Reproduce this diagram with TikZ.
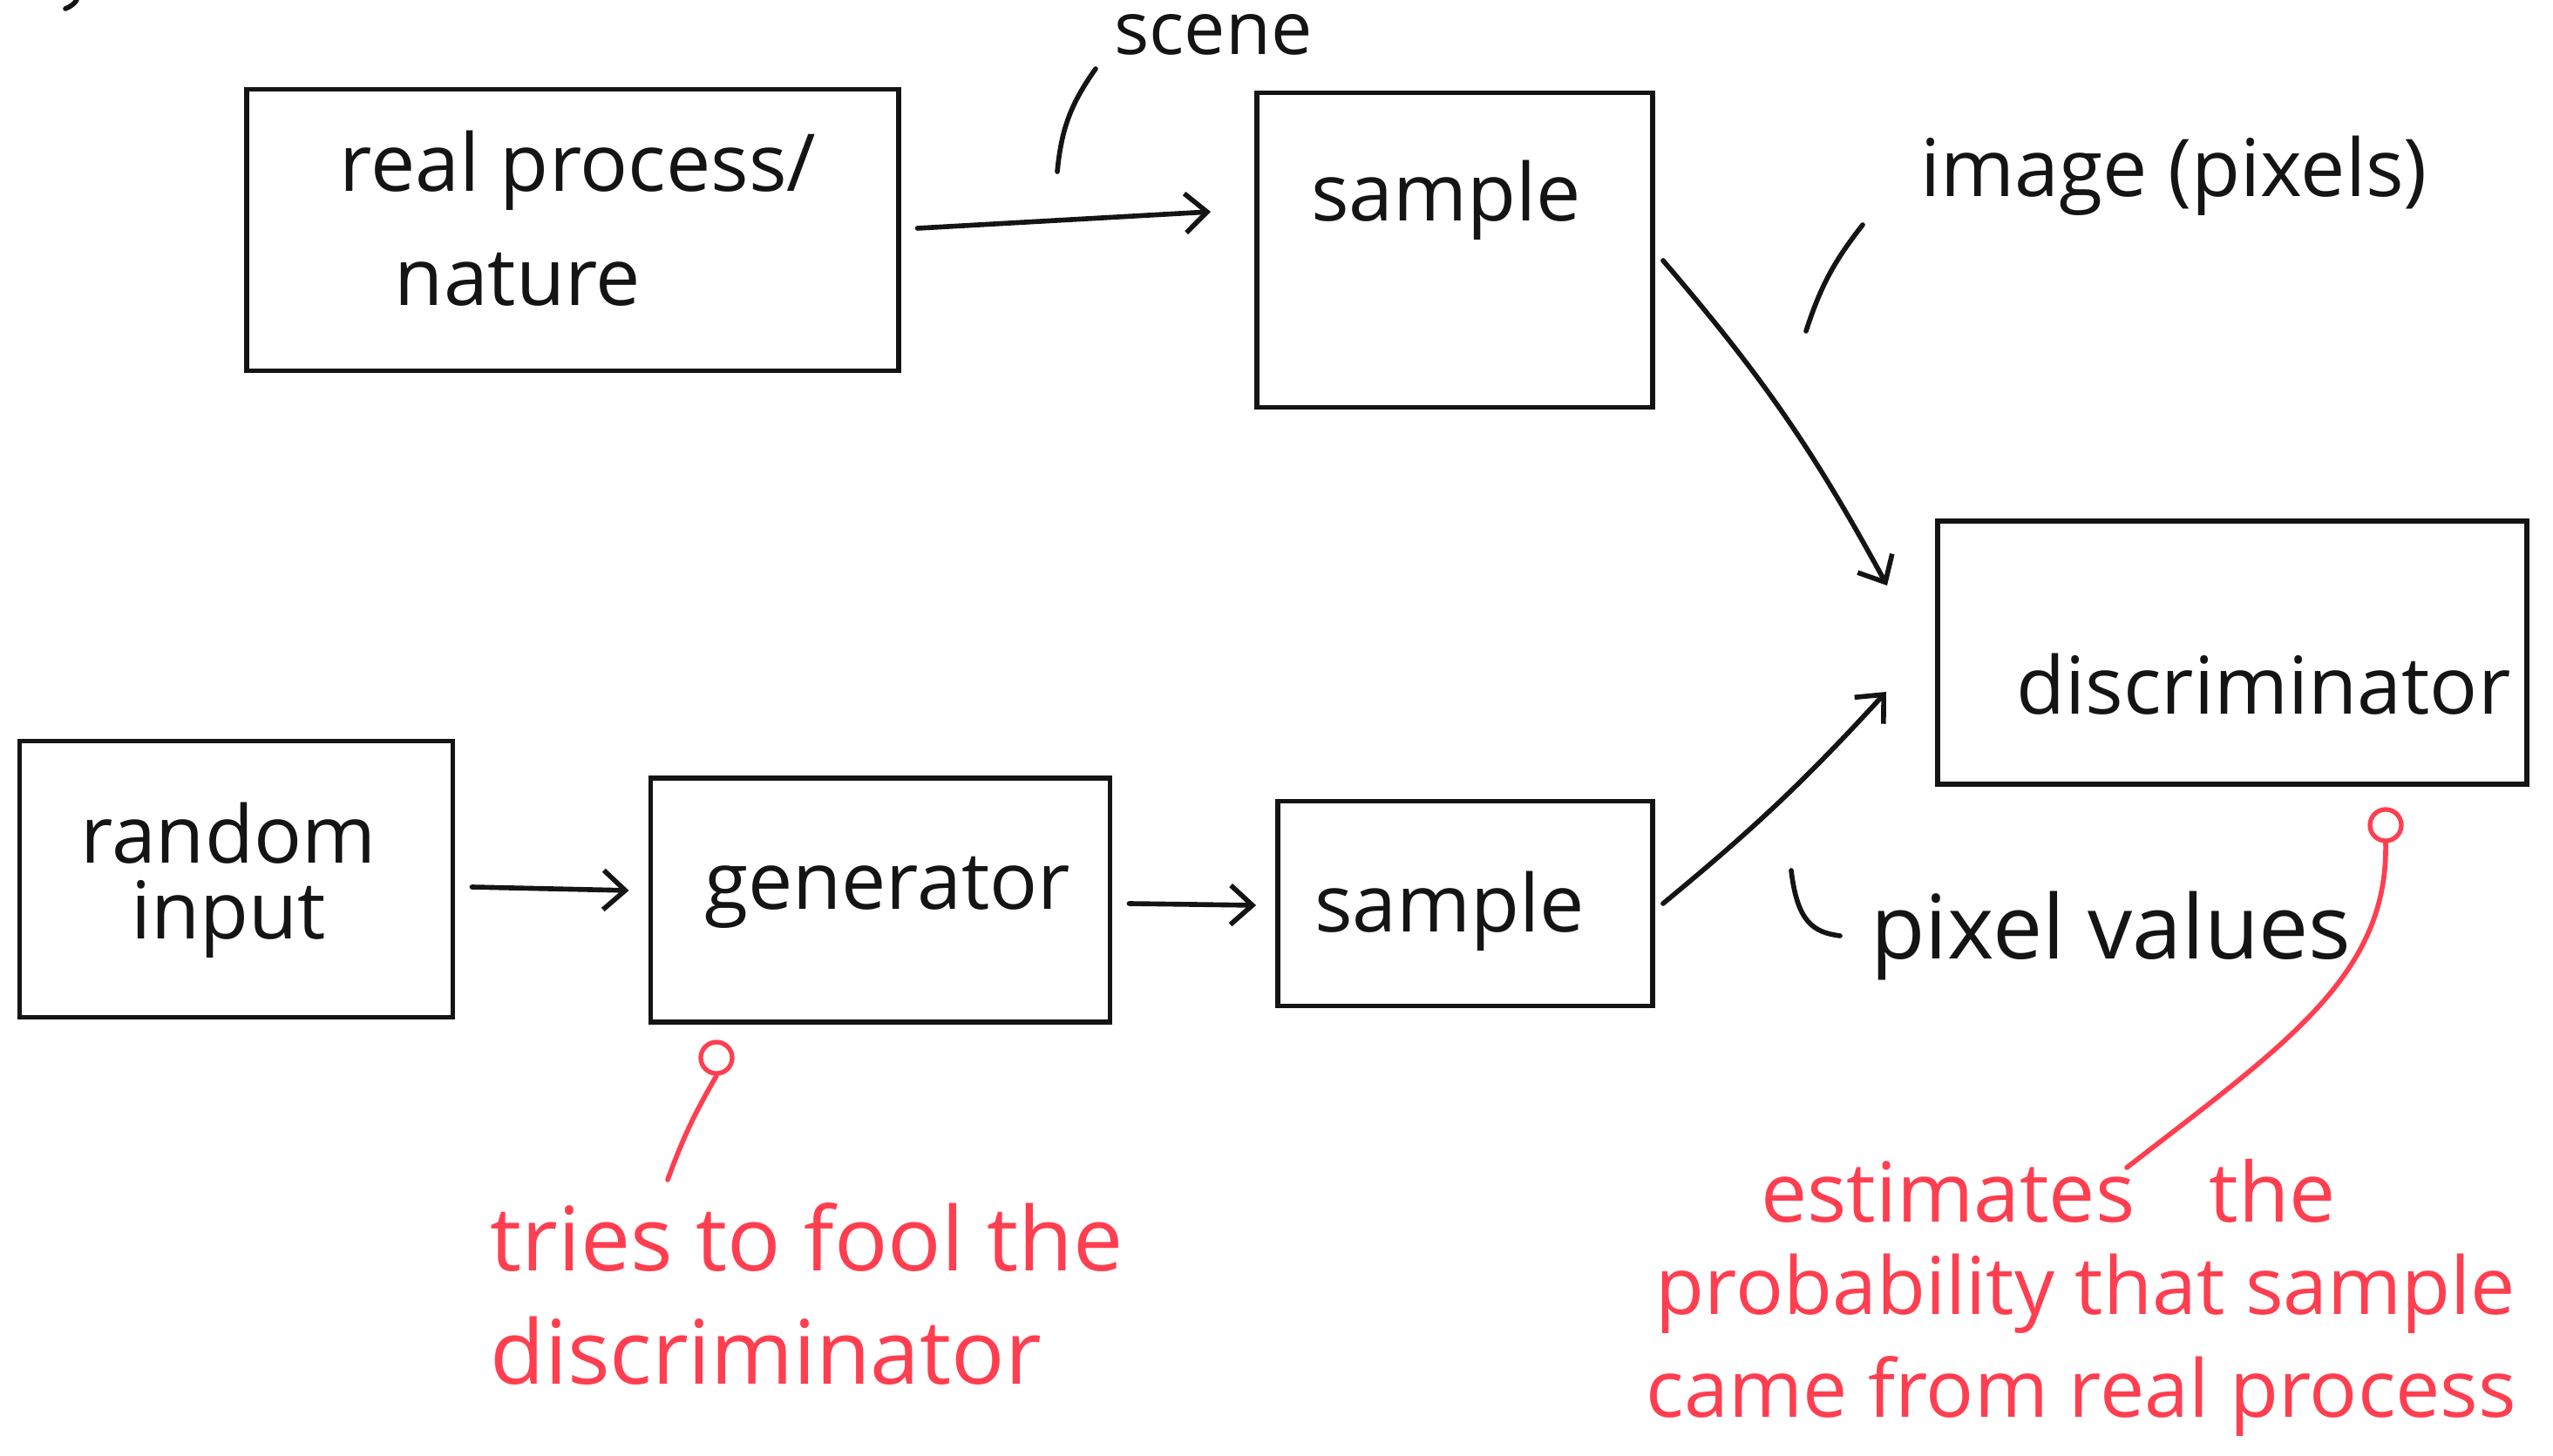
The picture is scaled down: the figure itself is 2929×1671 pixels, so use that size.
\documentclass[tikz,border=0pt]{standalone}
\usepackage{fontspec}
\setmainfont{Open Sans}
\usetikzlibrary{arrows.meta,calc}
\definecolor{pen}{RGB}{20,20,20}
\definecolor{redpen}{RGB}{255,62,80}
\tikzset{
  box/.style={draw=pen, line width=1.6pt, rectangle, inner sep=0pt},
  lbl/.style={font=\fontsize{26}{30}\selectfont, text=pen, inner sep=0pt},
  rlbl/.style={font=\fontsize{29}{33}\selectfont, text=redpen, inner sep=0pt},
  rlbls/.style={rlbl, font=\fontsize{26}{30}\selectfont},
  conn/.style={draw=pen, line width=1.6pt, line cap=round, line join=round},
  arr/.style={conn, -{Straight Barb[length=0.25cm,width=0.45cm]}},
  rconn/.style={draw=redpen, line width=1.6pt, line cap=round},
  rdot/.style={draw=redpen, circle, line width=1.5pt, minimum size=0.36cm, inner sep=0pt},
}
\begin{document}
\begin{tikzpicture}[x=0.01cm, y=-0.01cm]
\useasboundingbox (0,0) rectangle (2929,1671);

% boxes
\node[box, minimum width=7.47cm, minimum height=3.23cm] (real) at (657,264) {};
\node[box, minimum width=4.54cm, minimum height=3.61cm] (sone) at (1669,287) {};
\node[box, minimum width=6.76cm, minimum height=3.02cm] (disc) at (2561,749) {};
\node[box, minimum width=4.97cm, minimum height=3.17cm] (rand) at (271,1009) {};
\node[box, minimum width=5.27cm, minimum height=2.80cm] (gen) at (1010,1033) {};
\node[box, minimum width=4.30cm, minimum height=2.35cm] (stwo) at (1681,1037) {};

% box texts
\node[lbl] (realta) at (663,196) {real process/};
\node[lbl] (realtb) at (594,321) {nature};
\node[lbl] (sonet) at (1659,230) {sample};
\node[lbl] (disct) at (2597,785) {discriminator};
\node[lbl] (randta) at (262,956) {random};
\node[lbl] (randtb) at (262,1055) {input};
\node[lbl] (gent) at (1018,1024) {generator};
\node[lbl] (stwot) at (1663,1046) {sample};

% annotations
\node[lbl, font=\fontsize{24}{28}\selectfont] (scene) at (1392,40) {scene};
\node[lbl] (image) at (2494,202) {image (pixels)};
\node[lbl, font=\fontsize{29}{33}\selectfont] (pixv) at (2422,1074) {pixel values};

% arrows
\draw[arr] ($(real.east)+(19,-2)$) -- ($(sone.west)+(-50,-44)$);
\draw[arr] ($(sone.east)+(9,12)$) to[bend left=6] ($(disc.west)+(-55,-77)$);
\draw[arr] ($(stwo.east)+(9,0)$) to[bend right=4] ($(disc.west)+(-56,45)$);
\draw[arr] ($(rand.east)+(19,9)$) -- ($(gen.west)+(-22,-11)$);
\draw[arr] ($(gen.east)+(19,4)$) -- ($(stwo.west)+(-22,2)$);

% annotation pointer strokes
\coordinate (scA) at (1213,197);
\coordinate (scB) at (1257,79);
\draw[conn] (scA) to[bend left=15] (scB);
\coordinate (imA) at (2072,380);
\coordinate (imB) at (2137,258);
\draw[conn] (imA) to[bend left=10] (imB);
\coordinate (pvA) at (2055,999);
\coordinate (pvB) at (2111,1074);
\draw[conn] (pvA) .. controls (2062,1058) and (2080,1070) .. (pvB);
\coordinate (tlA) at (75,10);
\coordinate (tlB) at (88,0);
\draw[conn] (tlA) .. controls (80,8) and (85,5) .. (tlB);

% red notes
\node[rdot] (rdone) at (822,1214) {};
\coordinate (rdoneEnd) at (766,1354);
\draw[rconn] (rdone.south) to[bend right=5] (rdoneEnd);
\node[rlbl, anchor=west] (foola) at (562,1420) {tries to fool the};
\node[rlbl, anchor=west] (foolb) at (562,1550) {discriminator};

\node[rdot] (rdtwo) at (2737,947) {};
\coordinate (rdtwoEnd) at (2440,1340);
\draw[rconn] (rdtwo.south) .. controls (2740,1120) and (2620,1200) .. (rdtwoEnd);
\node[rlbls, font=\fontsize{27}{31}\selectfont] (esta) at (2350,1367) {estimates\hspace{0.9em}the};
\node[rlbls] (estb) at (2393,1485) {probability that sample};
\node[rlbls] (estc) at (2388,1603) {came from real process};
\end{tikzpicture}
\end{document}
